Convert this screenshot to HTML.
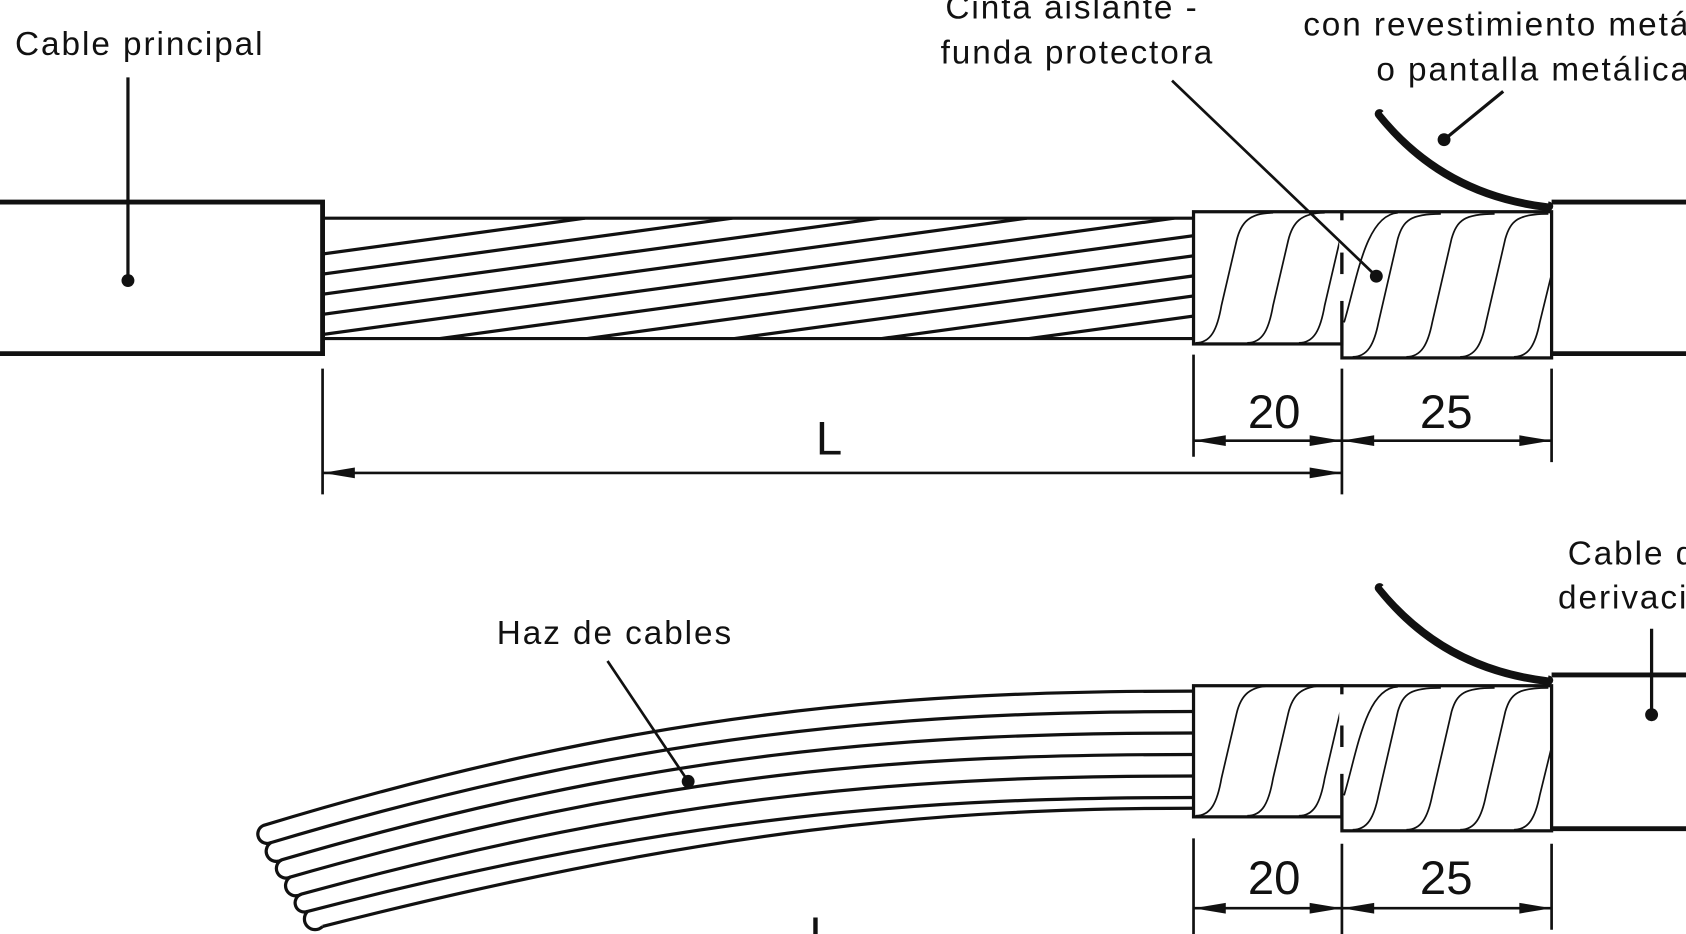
<!DOCTYPE html>
<html><head><meta charset="utf-8"><style>
html,body{margin:0;padding:0;background:#fff;}
svg{display:block;}
text{font-family:"Liberation Sans",sans-serif;fill:#111;}
</style></head><body>
<svg width="1686" height="934" viewBox="0 0 1568 869" preserveAspectRatio="none" xmlns="http://www.w3.org/2000/svg">
<defs>
<clipPath id="st"><rect x="300" y="203" width="810" height="112"/></clipPath>
<clipPath id="b1"><rect x="1110" y="197" width="138" height="123"/></clipPath>
<clipPath id="b2"><rect x="1248" y="197" width="195" height="136"/></clipPath>
<clipPath id="b3"><rect x="1110" y="638" width="138" height="122"/></clipPath>
<clipPath id="b4"><rect x="1248" y="638" width="195" height="135"/></clipPath>
<path id="sp" d="M0,0 C14,0 20,-12 24,-35 L38,-95 C42,-112 50,-121 72,-121" fill="none" stroke="#111" stroke-width="1.6"/>
<polygon id="arR" points="0,0 -30,-5 -30,5" fill="#111"/>
<polygon id="arL" points="0,0 30,-5 30,5" fill="#111"/>
</defs>
<g stroke="#111" fill="none">
<!-- TOP -->
<path d="M0,188 H300 V329 H0" stroke-width="4.5"/>
<line x1="300" y1="203" x2="1110" y2="203" stroke-width="3"/>
<line x1="300" y1="315" x2="1110" y2="315" stroke-width="3"/>
<g clip-path="url(#st)" stroke-width="3">
<line x1="-276" y1="315" x2="544" y2="203"/>
<line x1="-139" y1="315" x2="681" y2="203"/>
<line x1="-2" y1="315" x2="818" y2="203"/>
<line x1="135" y1="315" x2="955" y2="203"/>
<line x1="272" y1="315" x2="1092" y2="203"/>
<line x1="409" y1="315" x2="1229" y2="203"/>
<line x1="546" y1="315" x2="1366" y2="203"/>
<line x1="683" y1="315" x2="1503" y2="203"/>
<line x1="820" y1="315" x2="1640" y2="203"/>
<line x1="957" y1="315" x2="1777" y2="203"/>
</g>
<rect x="1110" y="197" width="138" height="123" stroke-width="3"/>
<rect x="1248" y="197" width="195" height="136" stroke-width="3"/>
<g clip-path="url(#b1)">
<use href="#sp" x="1112" y="319"/><use href="#sp" x="1160" y="319"/><use href="#sp" x="1208" y="319"/><use href="#sp" x="1256" y="319"/>
</g>
<g clip-path="url(#b2)" stroke-width="1.6">
<path d="M1250,300 C1262,260 1270,200 1300,198 M1258,332 C1272,332 1278,320 1282,300 L1300,222 C1305,205 1312,199 1340,199 M1308,332 C1322,332 1328,320 1332,300 L1350,222 C1355,205 1362,199 1390,199 M1358,332 C1372,332 1378,320 1382,300 L1400,222 C1405,205 1412,199 1440,199 M1408,332 C1422,332 1428,320 1432,300 L1443,255"/>
</g>
<line x1="1248" y1="205" x2="1248" y2="235" stroke="#fff" stroke-width="5"/>
<line x1="1248" y1="255" x2="1248" y2="280" stroke="#fff" stroke-width="5"/>
<path d="M1443,188 H1568 M1443,329 H1568" stroke-width="4.5"/>
<path d="M1283,106 C1322,155 1372,184 1440,192" stroke-width="9" stroke-linecap="round"/>
<path d="M1286,104 C1324,151 1374,180 1440,188" stroke="#fff" stroke-width="2.5"/>
<!-- leaders top -->
<line x1="119" y1="72" x2="119" y2="261" stroke-width="3"/>
<line x1="1090" y1="75" x2="1280" y2="257" stroke-width="2.5"/>
<line x1="1398" y1="85" x2="1343" y2="130" stroke-width="3"/>
<!-- dims top -->
<g stroke-width="2.5">
<line x1="300" y1="343" x2="300" y2="460"/>
<line x1="1110" y1="330" x2="1110" y2="425"/>
<line x1="1248" y1="343" x2="1248" y2="460"/>
<line x1="1443" y1="343" x2="1443" y2="430"/>
<line x1="1110" y1="410" x2="1443" y2="410"/>
<line x1="300" y1="440" x2="1248" y2="440"/>
</g>
<!-- BOTTOM -->
<g stroke-width="3" fill="none">
<path d="M1110,643 C850,643 600,660 245,768 A7,7 0 0 0 252,784"/>
<path d="M1110,662 C850,662 600,680 252,784 A6,6 0 0 0 262,800"/>
<path d="M1110,682 C850,682 610,698 262,800 A7,7 0 0 0 270,816"/>
<path d="M1110,702 C850,702 620,716 270,816 A7,7 0 0 0 280,832"/>
<path d="M1110,722 C860,722 630,736 280,832 A7,7 0 0 0 286,848"/>
<path d="M1110,742 C870,742 640,756 286,848 A6,6 0 0 0 300,862"/>
<path d="M1110,752 C880,752 660,770 300,862"/>
</g>
<rect x="1110" y="638" width="138" height="122" stroke-width="3" fill="#fff"/>
<rect x="1248" y="638" width="195" height="135" stroke-width="3" fill="#fff"/>
<g clip-path="url(#b3)">
<use href="#sp" x="1112" y="759"/><use href="#sp" x="1160" y="759"/><use href="#sp" x="1208" y="759"/><use href="#sp" x="1256" y="759"/>
</g>
<g clip-path="url(#b4)" stroke-width="1.6">
<path d="M1250,740 C1262,700 1270,640 1300,639 M1258,772 C1272,772 1278,760 1282,740 L1300,662 C1305,645 1312,640 1340,640 M1308,772 C1322,772 1328,760 1332,740 L1350,662 C1355,645 1362,640 1390,640 M1358,772 C1372,772 1378,760 1382,740 L1400,662 C1405,645 1412,640 1440,640 M1408,772 C1422,772 1428,760 1432,740 L1443,695"/>
</g>
<line x1="1248" y1="646" x2="1248" y2="675" stroke="#fff" stroke-width="5"/>
<line x1="1248" y1="695" x2="1248" y2="720" stroke="#fff" stroke-width="5"/>
<path d="M1443,628 H1568 M1443,771 H1568" stroke-width="4.5"/>
<path d="M1283,547 C1322,596 1372,625 1440,633" stroke-width="9" stroke-linecap="round"/>
<path d="M1286,545 C1324,592 1374,621 1440,629" stroke="#fff" stroke-width="2.5"/>
<line x1="565" y1="615" x2="640" y2="727" stroke-width="2.5"/>
<line x1="1536" y1="585" x2="1536" y2="665" stroke-width="3"/>
<g stroke-width="2.5">
<line x1="1110" y1="780" x2="1110" y2="869"/>
<line x1="1248" y1="785" x2="1248" y2="869"/>
<line x1="1443" y1="785" x2="1443" y2="865"/>
<line x1="1110" y1="845" x2="1443" y2="845"/>
</g>
</g>
<g fill="#111">
<circle cx="119" cy="261" r="6"/><circle cx="1280" cy="257" r="6"/><circle cx="1343" cy="130" r="6"/>
<circle cx="640" cy="727" r="6"/><circle cx="1536" cy="665" r="6"/>
</g>
<use href="#arL" x="1110" y="410"/><use href="#arR" x="1248" y="410"/>
<use href="#arL" x="1248" y="410"/><use href="#arR" x="1443" y="410"/>
<use href="#arL" x="300" y="440"/><use href="#arR" x="1248" y="440"/>
<use href="#arL" x="1110" y="845"/><use href="#arR" x="1248" y="845"/>
<use href="#arL" x="1248" y="845"/><use href="#arR" x="1443" y="845"/>
<g font-size="31" letter-spacing="1.8">
<text x="14" y="51">Cable principal</text>
<text x="997" y="17" text-anchor="middle">Cinta aislante -</text>
<text x="1002" y="59" text-anchor="middle">funda protectora</text>
<text x="1212" y="33">con revestimiento metálico</text>
<text x="1280" y="75">o pantalla metálica</text>
<text x="462" y="599">Haz de cables</text>
<text x="1458" y="525">Cable de</text>
<text x="1449" y="566">derivación</text>
</g>
<g font-size="44">
<text x="1185" y="398" text-anchor="middle">20</text>
<text x="1345" y="398" text-anchor="middle">25</text>
<text x="771" y="423" text-anchor="middle">L</text>
<text x="1185" y="832" text-anchor="middle">20</text>
<text x="1345" y="832" text-anchor="middle">25</text>
<text x="765" y="884" text-anchor="middle">L</text>
</g>
</svg>
</body></html>
